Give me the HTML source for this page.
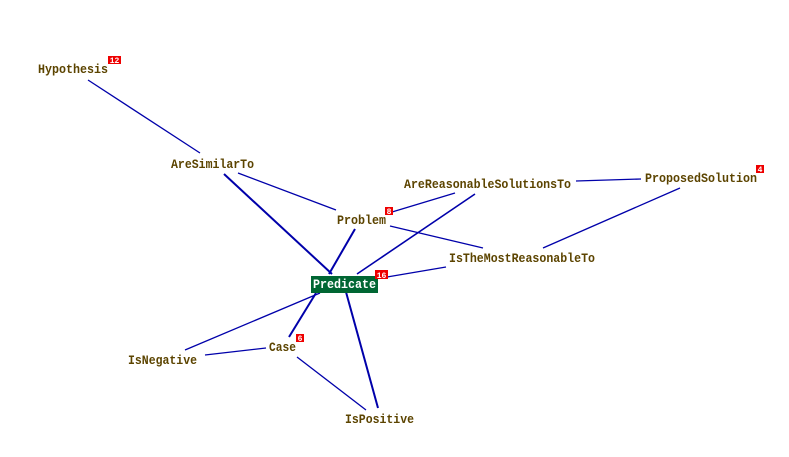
<!DOCTYPE html>
<html><head><meta charset="utf-8"><style>
html,body{margin:0;padding:0;background:#fff;width:789px;height:457px;overflow:hidden}
svg text{font-family:"Liberation Mono","Courier New",monospace;font-weight:bold;}
</style></head><body>
<svg width="789" height="457" viewBox="0 0 789 457" xmlns="http://www.w3.org/2000/svg">
<g stroke="#0000aa" stroke-width="1.3" fill="none">
<line x1="88" y1="80" x2="200" y2="153"/>
<line x1="224" y1="174" x2="332" y2="274" stroke-width="2"/>
<line x1="238" y1="173" x2="336" y2="210"/>
<line x1="355" y1="229" x2="329" y2="274" stroke-width="2"/>
<line x1="455" y1="193" x2="392" y2="212"/>
<line x1="475" y1="194" x2="357" y2="274" stroke-width="1.6"/>
<line x1="576" y1="181" x2="641" y2="179"/>
<line x1="390" y1="226" x2="483" y2="248"/>
<line x1="680" y1="188" x2="543" y2="248"/>
<line x1="446" y1="267" x2="387" y2="277"/>
<line x1="320" y1="293" x2="185" y2="350"/>
<line x1="316" y1="293" x2="289" y2="337" stroke-width="2"/>
<line x1="266" y1="348" x2="205" y2="355"/>
<line x1="346" y1="292" x2="378" y2="408" stroke-width="2"/>
<line x1="297" y1="357" x2="366" y2="410"/>
</g>
<rect x="311" y="276" width="67" height="17" fill="#006633"/>
<g font-size="12.5" fill="#5c4400">
<text x="38" y="73" textLength="70" lengthAdjust="spacingAndGlyphs">Hypothesis</text>
<text x="171" y="168" textLength="83" lengthAdjust="spacingAndGlyphs">AreSimilarTo</text>
<text x="337" y="224" textLength="49" lengthAdjust="spacingAndGlyphs">Problem</text>
<text x="404" y="188" textLength="167" lengthAdjust="spacingAndGlyphs">AreReasonableSolutionsTo</text>
<text x="645" y="182" textLength="112" lengthAdjust="spacingAndGlyphs">ProposedSolution</text>
<text x="449" y="262" textLength="146" lengthAdjust="spacingAndGlyphs">IsTheMostReasonableTo</text>
<text x="128" y="364" textLength="69" lengthAdjust="spacingAndGlyphs">IsNegative</text>
<text x="269" y="351" textLength="27" lengthAdjust="spacingAndGlyphs">Case</text>
<text x="345" y="423" textLength="69" lengthAdjust="spacingAndGlyphs">IsPositive</text>
<text x="313" y="288" fill="#ffffff" textLength="63" lengthAdjust="spacingAndGlyphs">Predicate</text>
</g>
<g fill="#ee0000">
<rect x="108" y="56" width="13" height="8"/>
<rect x="385" y="207" width="8" height="8"/>
<rect x="756" y="165" width="8" height="8"/>
<rect x="375" y="270" width="13" height="9"/>
<rect x="296" y="334" width="8" height="8"/>
</g>
<g font-size="8" fill="#fff" text-anchor="middle">
<text x="114.5" y="63">12</text>
<text x="389" y="214">8</text>
<text x="760" y="172">4</text>
<text x="381.5" y="278">16</text>
<text x="300" y="341">6</text>
</g>
</svg>
</body></html>
